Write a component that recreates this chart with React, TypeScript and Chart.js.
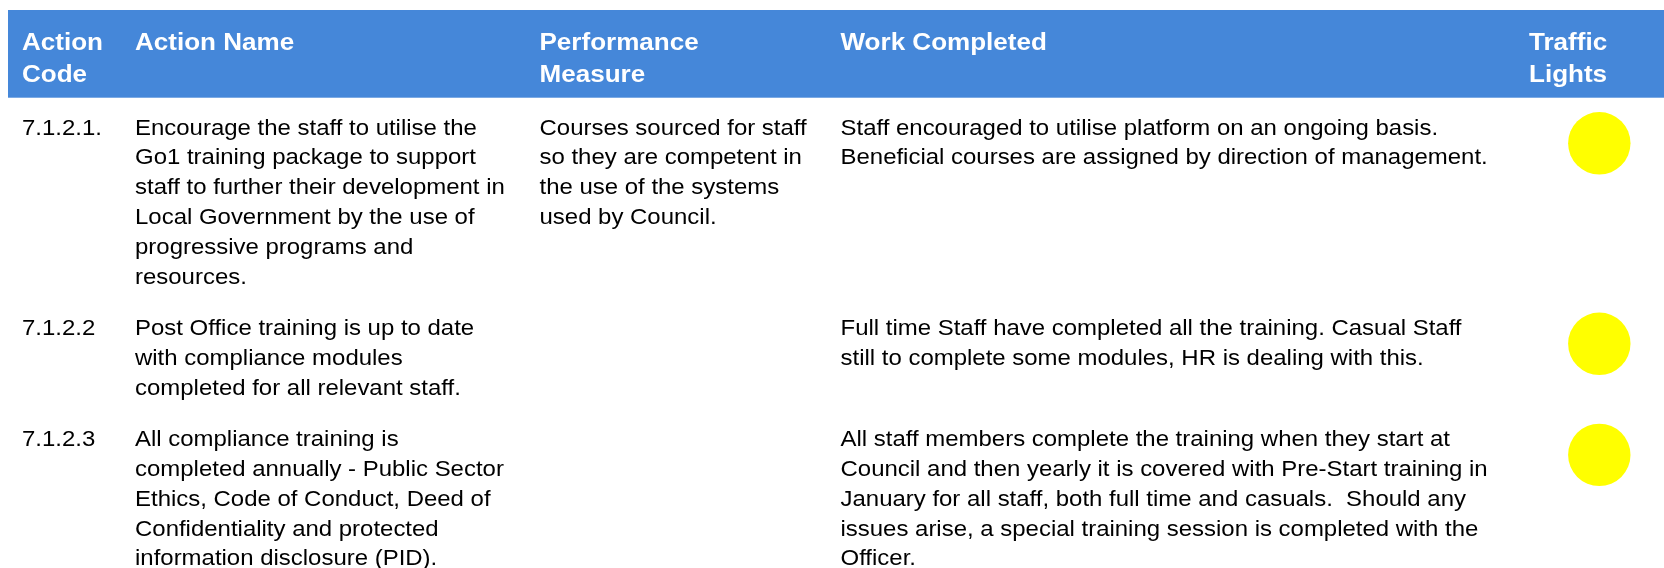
import React, { useEffect, useRef } from "react";
import { Chart, registerables } from "chart.js";

Chart.register(...registerables);

// ---- Data ----
const headers: string[][] = [
  ["Action", "Code"],
  ["Action Name"],
  ["Performance", "Measure"],
  ["Work Completed"],
  ["Traffic", "Lights"],
];

const actionCodes: string[] = ["7.1.2.1.", "7.1.2.2", "7.1.2.3"];

const actionNames: string[][] = [
  [
    "Encourage the staff to utilise the",
    "Go1 training package to support",
    "staff to further their development in",
    "Local Government by the use of",
    "progressive programs and",
    "resources.",
  ],
  [
    "Post Office training is up to date",
    "with compliance modules",
    "completed for all relevant staff.",
  ],
  [
    "All compliance training is",
    "completed annually - Public Sector",
    "Ethics, Code of Conduct, Deed of",
    "Confidentiality and protected",
    "information disclosure (PID).",
  ],
];

const performanceMeasures: string[][] = [
  [
    "Courses sourced for staff",
    "so they are competent in",
    "the use of the systems",
    "used by Council.",
  ],
  [],
  [],
];

const workCompleted: string[][] = [
  [
    "Staff encouraged to utilise platform on an ongoing basis.",
    "Beneficial courses are assigned by direction of management.",
  ],
  [
    "Full time Staff have completed all the training. Casual Staff",
    "still to complete some modules, HR is dealing with this.",
  ],
  [
    "All staff members complete the training when they start at",
    "Council and then yearly it is covered with Pre-Start training in",
    "January for all staff, both full time and casuals.  Should any",
    "issues arise, a special training session is completed with the",
    "Officer.",
  ],
];

const trafficLights: string[] = ["Amber", "Amber", "Amber"];

// ---- Styling / layout ----
const W = 1664;
const H = 568;
const FONT = '"Liberation Sans", Arial, Helvetica, sans-serif';
const HEADER_BG = "#4587d9";
const LIGHT_COLORS: Record<string, string> = {
  Green: "#00b050",
  Amber: "#ffff00",
  Red: "#ff0000",
};
const colX = [22, 135, 539.5, 840.5, 1529];
const lightX = 1599.3;
const headerTop = 10;
const headerBottom = 97.7;
const headerLeft = 8;
const headerBaseline = 50;
const headerLineH = 31.8;
const headerSize = 24.8;
const headerStretch = 1.05;
const bodySize = 22.4;
const bodyStretch = 1.07;
const bodyFirstBaseline = 134.5;
const bodyLineH = 29.8;
const rowGap = 21.7;
const lightOffset = 8.8;
const lightRadius = 31.2;

function rowBaselines(): number[] {
  const out: number[] = [];
  let y = bodyFirstBaseline;
  for (let i = 0; i < actionCodes.length; i++) {
    out.push(y);
    const n = Math.max(
      1,
      actionNames[i].length,
      performanceMeasures[i].length,
      workCompleted[i].length
    );
    y += n * bodyLineH + rowGap;
  }
  return out;
}

function drawText(
  ctx: CanvasRenderingContext2D,
  text: string,
  x: number,
  y: number,
  sx: number
) {
  ctx.save();
  ctx.translate(x, y);
  ctx.scale(sx, 1);
  ctx.fillText(text, 0, 0);
  ctx.restore();
}

const tablePlugin = {
  id: "tableText",
  beforeDatasetsDraw(chart: any) {
    const ctx: CanvasRenderingContext2D = chart.ctx;
    ctx.save();
    ctx.fillStyle = HEADER_BG;
    ctx.fillRect(headerLeft, headerTop, W - headerLeft, headerBottom - headerTop);
    ctx.textBaseline = "alphabetic";
    ctx.textAlign = "left";
    ctx.fillStyle = "#ffffff";
    ctx.font = `bold ${headerSize}px ${FONT}`;
    headers.forEach((lines, c) => {
      lines.forEach((t, l) => {
        drawText(ctx, t, colX[c], headerBaseline + l * headerLineH, headerStretch);
      });
    });
    ctx.fillStyle = "#000000";
    ctx.font = `${bodySize}px ${FONT}`;
    const bases = rowBaselines();
    actionCodes.forEach((code, r) => {
      const b = bases[r];
      drawText(ctx, code, colX[0], b, bodyStretch);
      const cols = [actionNames[r], performanceMeasures[r], workCompleted[r]];
      cols.forEach((lines, ci) => {
        lines.forEach((t, l) => {
          drawText(ctx, t, colX[ci + 1], b + l * bodyLineH, bodyStretch);
        });
      });
    });
    ctx.restore();
  },
};

export default function App() {
  const ref = useRef<HTMLCanvasElement | null>(null);
  useEffect(() => {
    document.body.style.margin = "0";
    const canvas = ref.current;
    if (!canvas) return;
    const bases = rowBaselines();
    const points = trafficLights.map((_, i) => ({
      x: lightX,
      y: bases[i] + lightOffset,
    }));
    const chart = new Chart(canvas, {
      type: "scatter",
      data: {
        datasets: [
          {
            label: "Traffic Lights",
            data: points,
            pointRadius: lightRadius,
            pointHoverRadius: lightRadius,
            pointBackgroundColor: trafficLights.map((s) => LIGHT_COLORS[s]),
            pointBorderWidth: 0,
            pointBorderColor: "rgba(0,0,0,0)",
            clip: false as any,
          },
        ],
      },
      options: {
        animation: false,
        responsive: false,
        maintainAspectRatio: false,
        devicePixelRatio: 1,
        layout: { padding: 0, autoPadding: false } as any,
        events: [],
        plugins: {
          legend: { display: false },
          tooltip: { enabled: false },
          title: { display: false },
        },
        scales: {
          x: { type: "linear", min: 0, max: W, display: false },
          y: { type: "linear", min: 0, max: H, reverse: true, display: false },
        },
      },
      plugins: [tablePlugin],
    });
    return () => chart.destroy();
  }, []);
  return (
    <div style={{ width: W, height: H, background: "#ffffff" }}>
      <canvas ref={ref} width={W} height={H} style={{ display: "block", width: W, height: H }} />
    </div>
  );
}
